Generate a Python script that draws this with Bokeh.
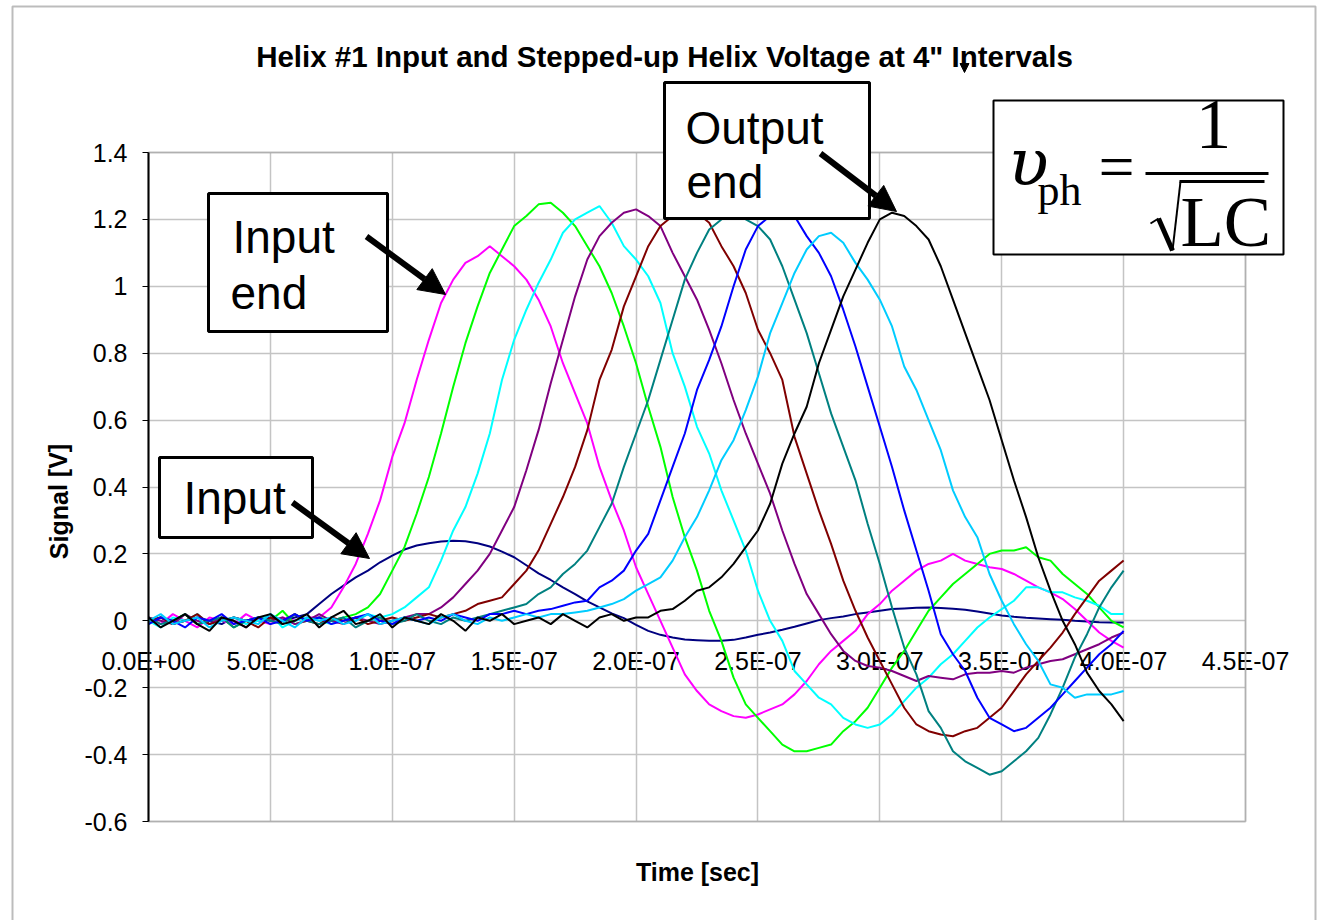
from bokeh.plotting import figure
from bokeh.models import (Range1d, FixedTicker, CustomJSTickFormatter, Label, LinearAxis,
                          BoxAnnotation, Arrow, NormalHead, ColumnDataSource)
from bokeh.embed import file_html
from bokeh.resources import INLINE

# Sample instants of the scope traces (ns)
sample_time_ns = list(range(0, 401, 5))

# Helix voltages, one trace per tap (V)
input_v = [0.00, 0.01, -0.01, 0.00, 0.01, 0.00, -0.01, 0.01, 0.00, 0.00, 0.01, 0.00, 0.01,
           0.02, 0.05, 0.08, 0.105, 0.13, 0.15, 0.175, 0.195, 0.213, 0.225, 0.232, 0.237, 0.239,
           0.238, 0.232, 0.222, 0.207, 0.19, 0.166, 0.142, 0.122, 0.10, 0.08, 0.058, 0.04, 0.022,
           0.008, -0.012, -0.03, -0.042, -0.05, -0.056, -0.058, -0.06, -0.06, -0.057, -0.05,
           -0.042, -0.035, -0.027, -0.018, -0.008, 0.002, 0.008, 0.013, 0.02, 0.025, 0.03, 0.035,
           0.037, 0.039, 0.04, 0.038, 0.036, 0.033, 0.028, 0.022, 0.016, 0.012, 0.009, 0.007,
           0.005, 0.003, 0.0, -0.002, -0.004, -0.005, -0.005]
tap1_v = [0.01, -0.01, 0.02, 0.00, -0.02, 0.01, 0.00, -0.01, 0.02, 0.00, -0.01, 0.01, 0.00, 0.01, 0.01,
          0.04, 0.10, 0.17, 0.26, 0.36, 0.49, 0.59, 0.72, 0.84, 0.95, 1.02, 1.07, 1.09, 1.12, 1.09,
          1.06, 1.02, 0.96, 0.88, 0.77, 0.68, 0.59, 0.46, 0.36, 0.27, 0.16, 0.08, 0.0, -0.08, -0.16,
          -0.21, -0.25, -0.27, -0.285, -0.29, -0.28, -0.265, -0.25, -0.22, -0.18, -0.13, -0.09,
          -0.06, -0.03, 0.02, 0.05, 0.09, 0.12, 0.15, 0.17, 0.18, 0.20, 0.18, 0.17, 0.16, 0.155,
          0.14, 0.12, 0.10, 0.085, 0.065, 0.035, 0.0, -0.035, -0.06, -0.08]
tap2_v = [-0.01, 0.01, 0.00, 0.02, -0.01, 0.00, 0.01, -0.02, 0.00, 0.01, 0.00, 0.03, -0.01, 0.00,
          0.01, 0.00, 0.01, 0.02,
          0.04, 0.08, 0.15, 0.22, 0.32, 0.43, 0.56, 0.70, 0.83, 0.94, 1.04, 1.11, 1.18, 1.21, 1.245,
          1.25, 1.22, 1.18, 1.12, 1.06, 0.98, 0.88, 0.77, 0.64, 0.52, 0.37, 0.25, 0.15, 0.03, -0.06,
          -0.17, -0.25, -0.29, -0.33, -0.37, -0.39, -0.39, -0.38, -0.37, -0.33, -0.30, -0.26, -0.20,
          -0.14, -0.09, -0.03, 0.03, 0.07, 0.11, 0.14, 0.17, 0.20, 0.21, 0.21, 0.22, 0.19, 0.18,
          0.14, 0.11, 0.08, 0.04, 0.0, -0.02]
tap3_v = [0.00, -0.02, 0.01, 0.00, 0.02, -0.01, 0.00, 0.01, -0.01, 0.00, 0.02, -0.02, 0.00, 0.01,
          0.00, -0.01, 0.01, 0.00, 0.02, 0.01, 0.02,
          0.04, 0.07, 0.10, 0.18, 0.27, 0.34, 0.44, 0.56, 0.72, 0.84, 0.93, 1.01, 1.08, 1.16, 1.20,
          1.22, 1.24, 1.19, 1.12, 1.08, 1.03, 0.95, 0.80, 0.70, 0.58, 0.50, 0.39, 0.30, 0.21, 0.09,
          0.0, -0.06, -0.15, -0.19, -0.23, -0.25, -0.29, -0.31, -0.32, -0.31, -0.28, -0.24, -0.20,
          -0.17, -0.13, -0.10, -0.06, -0.02, 0.01, 0.035, 0.06, 0.10, 0.10, 0.085, 0.085, 0.07,
          0.06, 0.045, 0.02, 0.02]
tap4_v = [0.01, 0.00, -0.01, 0.02, 0.00, -0.01, 0.01, 0.00, -0.02, 0.01, 0.00, 0.01, -0.01, 0.00,
          0.02, 0.00, -0.01, 0.01, 0.00, -0.01, 0.00, 0.01, 0.02, 0.02,
          0.04, 0.07, 0.11, 0.15, 0.20, 0.27, 0.34, 0.45, 0.57, 0.71, 0.84, 0.97, 1.08, 1.15, 1.19,
          1.22, 1.23, 1.21, 1.18, 1.10, 1.03, 0.96, 0.87, 0.77, 0.66, 0.56, 0.47, 0.38, 0.27, 0.17,
          0.08, 0.02, -0.04, -0.09, -0.12, -0.135, -0.14, -0.15, -0.165, -0.18, -0.165, -0.17,
          -0.175, -0.16, -0.155, -0.155, -0.15, -0.155, -0.14, -0.13, -0.12, -0.115, -0.10,
          -0.085, -0.07, -0.05, -0.035]
tap5_v = [0.00, 0.01, -0.01, 0.00, 0.02, -0.01, 0.00, 0.01, 0.00, -0.02, 0.01, 0.00, 0.02, 0.00,
          -0.01, 0.01, 0.00, 0.01, -0.01, 0.00, 0.01, 0.00, 0.01, 0.02, 0.01,
          0.02, 0.03, 0.05, 0.06, 0.07, 0.11, 0.15, 0.21, 0.29, 0.37, 0.46, 0.57, 0.72, 0.81, 0.94,
          1.03, 1.12, 1.18, 1.21, 1.22, 1.22, 1.19, 1.12, 1.06, 0.98, 0.87, 0.80, 0.72, 0.55, 0.44,
          0.33, 0.23, 0.12, 0.03, -0.05, -0.12, -0.19, -0.26, -0.31, -0.33, -0.34, -0.345, -0.33,
          -0.32, -0.29, -0.26, -0.21, -0.16, -0.12, -0.08, -0.035, 0.02, 0.07, 0.12, 0.15, 0.18]
tap6_v = [0.01, -0.01, 0.00, 0.02, -0.01, 0.00, 0.01, -0.02, 0.00, 0.01, 0.00, -0.01, 0.02, 0.00,
          -0.01, 0.00, 0.01, -0.02, 0.00, 0.01, -0.01, 0.00, 0.02, 0.00, -0.01, 0.01, 0.00, 0.01,
          0.02, 0.03, 0.04,
          0.05, 0.08, 0.10, 0.14, 0.17, 0.21, 0.28, 0.35, 0.46, 0.56, 0.66, 0.78, 0.90, 1.02, 1.10,
          1.17, 1.20, 1.21, 1.20, 1.18, 1.14, 1.06, 0.96, 0.86, 0.74, 0.62, 0.52, 0.42, 0.29, 0.17,
          0.04, -0.08, -0.16, -0.27, -0.32, -0.39, -0.42, -0.44, -0.46, -0.45, -0.42, -0.39, -0.35,
          -0.28, -0.20, -0.11, -0.04, 0.04, 0.10, 0.15]
tap7_v = [-0.01, 0.01, 0.00, -0.02, 0.01, 0.00, 0.02, -0.01, 0.00, 0.01, -0.01, 0.00, 0.02, 0.00,
          0.01, -0.01, 0.00, 0.01, 0.02, 0.00, -0.01, 0.01, 0.00, 0.01, 0.00, 0.02, 0.01, 0.00,
          0.02, 0.02, 0.03,
          0.02, 0.03, 0.035, 0.045, 0.055, 0.06, 0.10, 0.12, 0.15, 0.21, 0.26, 0.36, 0.46, 0.56,
          0.69, 0.78, 0.88, 1.00, 1.11, 1.18, 1.21, 1.22, 1.21, 1.15, 1.10, 1.03, 0.93, 0.82, 0.70,
          0.58, 0.46, 0.33, 0.21, 0.09, -0.04, -0.10, -0.15, -0.23, -0.29, -0.31, -0.33, -0.32,
          -0.29, -0.26, -0.22, -0.18, -0.14, -0.10, -0.07, -0.03]
tap8_v = [0.00, 0.02, -0.01, 0.00, 0.01, -0.02, 0.00, 0.01, 0.00, -0.01, 0.02, 0.00, -0.02, 0.01,
          0.00, 0.01, -0.01, 0.00, 0.02, -0.01, 0.00, 0.01, 0.00, -0.01, 0.01, 0.02, 0.00, -0.01,
          0.01, 0.00, 0.01, 0.02, 0.01, 0.02, 0.02,
          0.025, 0.03, 0.04, 0.05, 0.065, 0.09, 0.11, 0.13, 0.18, 0.25, 0.31, 0.39, 0.48, 0.54,
          0.63, 0.73, 0.86, 0.95, 1.04, 1.11, 1.15, 1.16, 1.13, 1.07, 1.02, 0.96, 0.88, 0.76, 0.69,
          0.60, 0.51, 0.39, 0.31, 0.25, 0.14, 0.06, -0.01, -0.07, -0.12, -0.19, -0.20, -0.23,
          -0.22, -0.22, -0.22, -0.21]
output_v = [0.01, -0.02, 0.00, 0.02, -0.01, -0.03, 0.01, 0.00, -0.02, 0.01, 0.02, -0.01, 0.00,
            0.02, -0.02, 0.01, 0.03, -0.01, 0.00, 0.02, -0.02, 0.01, 0.00, -0.01, 0.02, 0.00,
            -0.03, 0.01, 0.00, 0.02, -0.01, 0.00, 0.01, -0.01, 0.02, 0.00, -0.02, 0.01, 0.02,
            0.00, 0.01,
            0.01, 0.03, 0.035, 0.06, 0.09, 0.10, 0.13, 0.17, 0.22, 0.27, 0.35, 0.47, 0.56, 0.64,
            0.77, 0.87, 0.97, 1.05, 1.13, 1.20, 1.22, 1.21, 1.18, 1.14, 1.06, 0.96, 0.86, 0.76,
            0.66, 0.54, 0.42, 0.31, 0.19, 0.09, 0.00, -0.07, -0.155, -0.21, -0.25, -0.30]

trace_names = ["Input", "Tap 1", "Tap 2", "Tap 3", "Tap 4", "Tap 5", "Tap 6", "Tap 7",
               "Tap 8", "Output"]
trace_colors = ["#000080", "#FF00FF", "#00FF00", "#00FFFF", "#800080", "#800000",
                "#008080", "#0000FF", "#00CCFF", "#000000"]
trace_values = [input_v, tap1_v, tap2_v, tap3_v, tap4_v, tap5_v, tap6_v, tap7_v, tap8_v,
                output_v]

time_ticks = [0.0, 5e-8, 1e-7, 1.5e-7, 2e-7, 2.5e-7, 3e-7, 3.5e-7, 4e-7, 4.5e-7]
time_tick_labels = ["0.0E+00", "5.0E-08", "1.0E-07", "1.5E-07", "2.0E-07", "2.5E-07",
                    "3.0E-07", "3.5E-07", "4.0E-07", "4.5E-07"]
signal_ticks = [-0.6, -0.4, -0.2, 0.0, 0.2, 0.4, 0.6, 0.8, 1.0, 1.2, 1.4]
signal_tick_labels = ["-0.6", "-0.4", "-0.2", "0", "0.2", "0.4", "0.6", "0.8", "1", "1.2", "1.4"]

SANS = "Liberation Sans"
SERIF = "Liberation Serif"

# Page geometry: the plotting frame fills the canvas and the chart's plot area
# is the [0, 4.5e-7] x [-0.6, 1.4] window inside it.
CANVAS_W, CANVAS_H = 1317, 920
AREA_L, AREA_R, AREA_T, AREA_B = 148, 1245, 152, 821
T_MIN, T_MAX = time_ticks[0], time_ticks[-1]
V_MIN, V_MAX = signal_ticks[0], signal_ticks[-1]
sec_per_px = (T_MAX - T_MIN) / (AREA_R - AREA_L)
volt_per_px = (V_MAX - V_MIN) / (AREA_B - AREA_T)
x_range = Range1d(T_MIN - AREA_L * sec_per_px, T_MAX + (CANVAS_W - AREA_R) * sec_per_px)
y_range = Range1d(V_MIN - (CANVAS_H - AREA_B) * volt_per_px, V_MAX + AREA_T * volt_per_px)

p = figure(width=CANVAS_W, height=CANVAS_H, x_range=x_range, y_range=y_range,
           output_backend="svg", toolbar_location=None,
           x_axis_location=None, y_axis_location=None,
           min_border_left=0, min_border_right=0, min_border_top=0, min_border_bottom=0)
p.background_fill_color = "white"
p.border_fill_color = "white"
p.outline_line_color = None

nearest_label = """
let best = 0;
for (let i = 1; i < tick_values.length; i++) {
  if (Math.abs(tick_values[i] - tick) < Math.abs(tick_values[best] - tick)) best = i;
}
return tick_labels[best];
"""

# plot-area border
p.add_layout(BoxAnnotation(left=T_MIN, right=T_MAX, bottom=V_MIN, top=V_MAX,
                           fill_alpha=0, line_color="#808080", line_width=2,
                           level="underlay"))

xa = LinearAxis(fixed_location=0, bounds=(T_MIN, T_MAX))
xa.ticker = FixedTicker(ticks=time_ticks)
xa.formatter = CustomJSTickFormatter(
    args=dict(tick_values=time_ticks, tick_labels=time_tick_labels), code=nearest_label)
xa.major_tick_in = 6
xa.major_tick_out = 6
xa.minor_tick_line_color = None
xa.axis_line_color = "black"
xa.major_tick_line_color = "black"
xa.major_label_text_font = SANS
xa.major_label_text_font_size = "25px"
xa.major_label_text_color = "black"
xa.major_label_standoff = 20
xa.level = "underlay"
p.add_layout(xa, "below")

ya = LinearAxis(fixed_location=0, bounds=(V_MIN, V_MAX))
ya.ticker = FixedTicker(ticks=signal_ticks)
ya.formatter = CustomJSTickFormatter(
    args=dict(tick_values=signal_ticks, tick_labels=signal_tick_labels), code=nearest_label)
ya.major_tick_in = 0
ya.major_tick_out = 6
ya.minor_tick_line_color = None
ya.axis_line_color = "black"
ya.axis_line_width = 2
ya.major_tick_line_color = "black"
ya.major_label_text_font = SANS
ya.major_label_text_font_size = "25px"
ya.major_label_text_color = "black"
ya.major_label_standoff = 15
p.add_layout(ya, "left")

p.xgrid.ticker = FixedTicker(ticks=time_ticks)
p.ygrid.ticker = FixedTicker(ticks=signal_ticks)
p.xgrid.cross_bounds = (V_MIN, V_MAX)
p.ygrid.cross_bounds = (T_MIN, T_MAX)
for g in (p.xgrid, p.ygrid):
    g.grid_line_color = "#c4c4c4"
    g.grid_line_width = 1.5

t_seconds = [t * 1e-9 for t in sample_time_ns]
for name, color, vals in zip(trace_names, trace_colors, trace_values):
    src = ColumnDataSource(dict(t=t_seconds, v=vals))
    p.line("t", "v", source=src, line_color=color, line_width=2, name=name)


def canvas_label(x, y, text, size, font=SANS, style="normal", align="left", angle=0):
    # y is the vertical middle of the text line, in canvas pixels from the top
    p.add_layout(Label(x=x, y=y, x_units="canvas", y_units="canvas", text=text,
                       text_font=font, text_font_size=f"{size}px", text_font_style=style,
                       text_align=align, text_baseline="middle", text_color="black",
                       angle=angle))


def canvas_box(left, right, top, bottom, width=3):
    p.add_layout(BoxAnnotation(left=left, right=right, top=top, bottom=bottom,
                               left_units="canvas", right_units="canvas",
                               top_units="canvas", bottom_units="canvas",
                               fill_color="white", fill_alpha=1.0,
                               line_color="black", line_width=width, line_alpha=1.0))


def canvas_line(x0, y0, x1, y1, width):
    p.add_layout(Arrow(x_start=x0, y_start=y0, x_end=x1, y_end=y1,
                       start_units="canvas", end_units="canvas", end=None,
                       line_color="black", line_width=width))


def canvas_arrow(x0, y0, x1, y1, width=6, head=26):
    p.add_layout(Arrow(x_start=x0, y_start=y0, x_end=x1, y_end=y1,
                       start_units="canvas", end_units="canvas",
                       line_color="black", line_width=width,
                       end=NormalHead(size=head, fill_color="black", line_color="black")))


# outer chart border
p.add_layout(BoxAnnotation(left=12, right=1315, top=6, bottom=940,
                           left_units="canvas", right_units="canvas",
                           top_units="canvas", bottom_units="canvas",
                           fill_alpha=0, line_color="#202020", line_width=2))

# titles
canvas_label(664, 56, "Helix #1 Input and Stepped-up Helix Voltage at 4\" Intervals", 29.5,
             style="bold", align="center")
canvas_arrow(964, 56, 964, 72, width=1, head=9)
canvas_label(697, 871, "Time [sec]", 25, style="bold", align="center")
canvas_label(58, 501, "Signal [V]", 25, style="bold", align="center", angle=1.5708)

# callouts
canvas_box(208, 387, 193, 331)
canvas_label(232, 236, "Input", 46)
canvas_label(230, 292, "end", 46)
canvas_arrow(366, 236, 445, 294)

canvas_box(159, 312, 457, 537)
canvas_label(183, 497, "Input", 46)
canvas_arrow(292, 502, 369, 558)

canvas_box(664, 869, 82, 218)
canvas_label(685, 127, "Output", 46)
canvas_label(686, 181, "end", 46)
canvas_arrow(820, 153, 896, 211)

# phase velocity formula
canvas_box(993, 1283, 100, 254, width=2)
canvas_label(1008, 162, "\u03c5", 66, font="DejaVu Serif", style="italic")
canvas_label(1037, 190, "ph", 44, font=SERIF)
canvas_label(1098, 166, "=", 64, font=SERIF)
canvas_label(1213, 124, "1", 71, font=SERIF, align="center")
canvas_line(1145, 173, 1268, 173, 3)
canvas_line(1150, 223, 1158, 218, 2)
canvas_line(1158, 218, 1172, 250, 5)
canvas_line(1172, 250, 1180, 181, 2)
canvas_line(1179, 181, 1264, 181, 3)
canvas_label(1180, 221, "LC", 71, font=SERIF)

open("out.html", "w").write(file_html(p, INLINE))
